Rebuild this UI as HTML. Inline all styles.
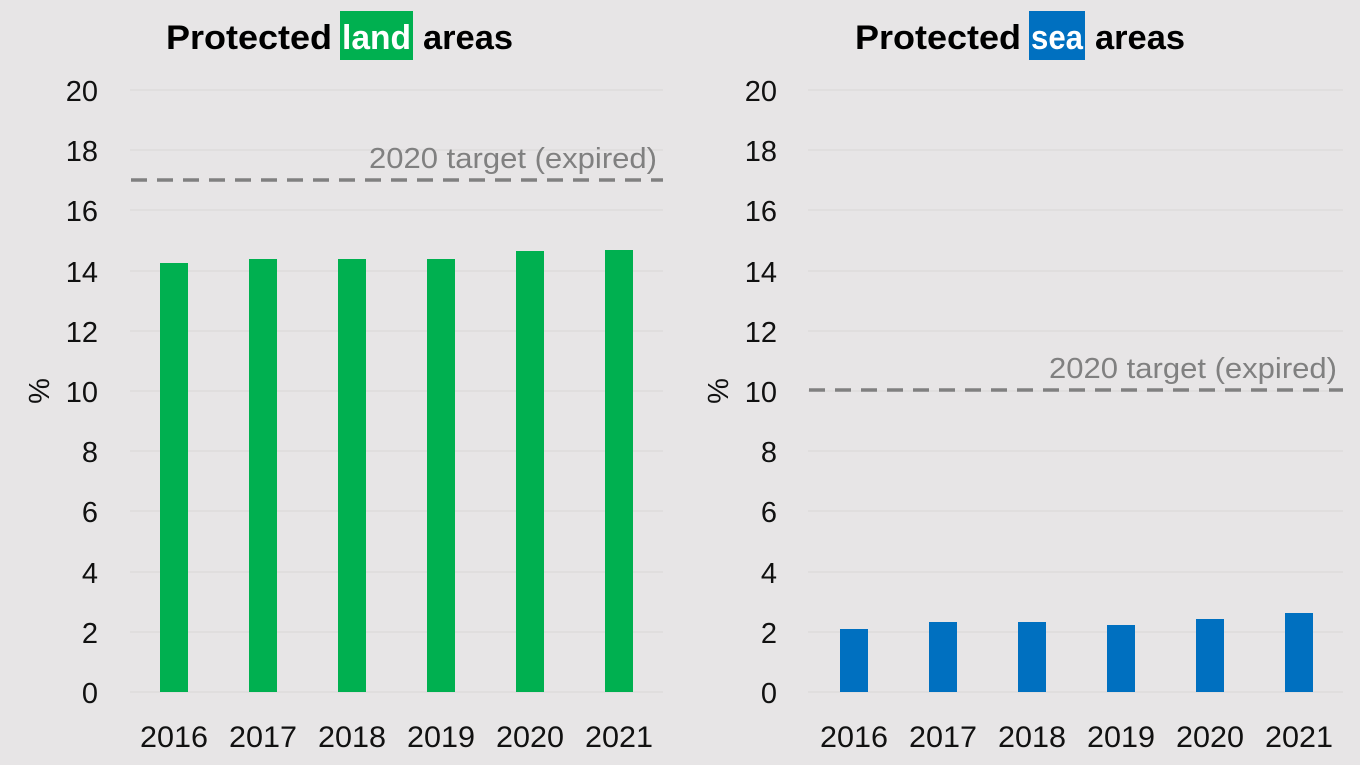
<!DOCTYPE html>
<html><head><meta charset="utf-8"><style>
html,body{margin:0;padding:0;background:#e7e5e6;}
svg{display:block;font-family:"Liberation Sans",sans-serif;}
</style></head><body>
<svg width="1360" height="765" viewBox="0 0 1360 765" xmlns="http://www.w3.org/2000/svg">
<rect width="1360" height="765" fill="#e7e5e6"/>
<g stroke="#d8d6d7" stroke-width="1">
<line x1="130" y1="90" x2="663" y2="90"/><line x1="130" y1="150" x2="663" y2="150"/><line x1="130" y1="210" x2="663" y2="210"/><line x1="130" y1="271" x2="663" y2="271"/><line x1="130" y1="331" x2="663" y2="331"/><line x1="130" y1="391" x2="663" y2="391"/><line x1="130" y1="451" x2="663" y2="451"/><line x1="130" y1="511" x2="663" y2="511"/><line x1="130" y1="572" x2="663" y2="572"/><line x1="130" y1="632" x2="663" y2="632"/><line x1="130" y1="692" x2="663" y2="692"/>
<line x1="808" y1="90" x2="1343" y2="90"/><line x1="808" y1="150" x2="1343" y2="150"/><line x1="808" y1="210" x2="1343" y2="210"/><line x1="808" y1="271" x2="1343" y2="271"/><line x1="808" y1="331" x2="1343" y2="331"/><line x1="808" y1="391" x2="1343" y2="391"/><line x1="808" y1="451" x2="1343" y2="451"/><line x1="808" y1="511" x2="1343" y2="511"/><line x1="808" y1="572" x2="1343" y2="572"/><line x1="808" y1="632" x2="1343" y2="632"/><line x1="808" y1="692" x2="1343" y2="692"/>
</g>
<g font-size="29" fill="#111" text-anchor="end">
<text x="98" y="101">20</text><text x="98" y="161">18</text><text x="98" y="221">16</text><text x="98" y="282">14</text><text x="98" y="342">12</text><text x="98" y="402">10</text><text x="98" y="462">8</text><text x="98" y="522">6</text><text x="98" y="583">4</text><text x="98" y="643">2</text><text x="98" y="703">0</text>
<text x="777" y="101">20</text><text x="777" y="161">18</text><text x="777" y="221">16</text><text x="777" y="282">14</text><text x="777" y="342">12</text><text x="777" y="402">10</text><text x="777" y="462">8</text><text x="777" y="522">6</text><text x="777" y="583">4</text><text x="777" y="643">2</text><text x="777" y="703">0</text>
</g>
<text transform="translate(49,391) rotate(-90)" font-size="29" fill="#111" text-anchor="middle">%</text>
<text transform="translate(728,391) rotate(-90)" font-size="29" fill="#111" text-anchor="middle">%</text>
<g fill="#00b050">
<rect x="160" y="263" width="28" height="429"/><rect x="249" y="259" width="28" height="433"/><rect x="338" y="259" width="28" height="433"/><rect x="427" y="259" width="28" height="433"/><rect x="516" y="251" width="28" height="441"/><rect x="605" y="250" width="28" height="442"/>
</g>
<g fill="#0070c0">
<rect x="840" y="629" width="28" height="63"/><rect x="929" y="622" width="28" height="70"/><rect x="1018" y="622" width="28" height="70"/><rect x="1107" y="625" width="28" height="67"/><rect x="1196" y="619" width="28" height="73"/><rect x="1285" y="613" width="28" height="79"/>
</g>
<g font-size="30" fill="#111" text-anchor="middle">
<text x="174" y="747" textLength="68" lengthAdjust="spacingAndGlyphs">2016</text><text x="263" y="747" textLength="68" lengthAdjust="spacingAndGlyphs">2017</text><text x="352" y="747" textLength="68" lengthAdjust="spacingAndGlyphs">2018</text><text x="441" y="747" textLength="68" lengthAdjust="spacingAndGlyphs">2019</text><text x="530" y="747" textLength="68" lengthAdjust="spacingAndGlyphs">2020</text><text x="619" y="747" textLength="68" lengthAdjust="spacingAndGlyphs">2021</text>
<text x="854" y="747" textLength="68" lengthAdjust="spacingAndGlyphs">2016</text><text x="943" y="747" textLength="68" lengthAdjust="spacingAndGlyphs">2017</text><text x="1032" y="747" textLength="68" lengthAdjust="spacingAndGlyphs">2018</text><text x="1121" y="747" textLength="68" lengthAdjust="spacingAndGlyphs">2019</text><text x="1210" y="747" textLength="68" lengthAdjust="spacingAndGlyphs">2020</text><text x="1299" y="747" textLength="68" lengthAdjust="spacingAndGlyphs">2021</text>
</g>
<g stroke="#808080" stroke-width="3.5" stroke-dasharray="16,10">
<line x1="131" y1="180" x2="663" y2="180"/>
<line x1="809" y1="390" x2="1343" y2="390"/>
</g>
<g font-size="29" fill="#808080" text-anchor="end">
<text x="657" y="168" textLength="288" lengthAdjust="spacingAndGlyphs">2020 target (expired)</text>
<text x="1337" y="378" textLength="288" lengthAdjust="spacingAndGlyphs">2020 target (expired)</text>
</g>
<rect x="340" y="11" width="73" height="49" fill="#00b050"/>
<rect x="1029" y="11" width="56" height="49" fill="#0070c0"/>
<g font-size="34" font-weight="bold">
<text x="166" y="49" fill="#000" textLength="166" lengthAdjust="spacingAndGlyphs">Protected</text>
<text x="342" y="49" fill="#fff" textLength="69" lengthAdjust="spacingAndGlyphs">land</text>
<text x="423" y="49" fill="#000" textLength="90" lengthAdjust="spacingAndGlyphs">areas</text>
<text x="855" y="49" fill="#000" textLength="166" lengthAdjust="spacingAndGlyphs">Protected</text>
<text x="1031" y="49" fill="#fff" textLength="52" lengthAdjust="spacingAndGlyphs">sea</text>
<text x="1095" y="49" fill="#000" textLength="90" lengthAdjust="spacingAndGlyphs">areas</text>
</g>
</svg>
</body></html>
